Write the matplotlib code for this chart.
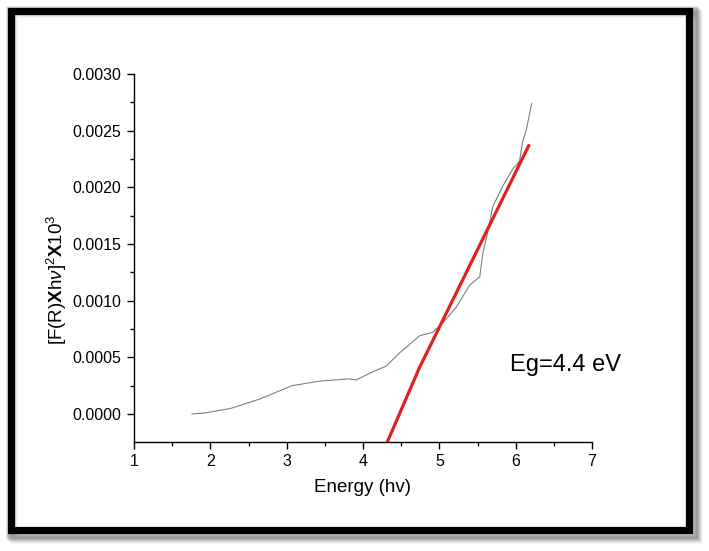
import matplotlib
matplotlib.use("Agg")
import matplotlib.pyplot as plt
from matplotlib.patches import Rectangle

plt.rcParams["font.family"] = ["Liberation Sans", "DejaVu Sans"]
plt.rcParams["mathtext.fontset"] = "custom"
plt.rcParams["mathtext.rm"] = "Liberation Sans"
plt.rcParams["mathtext.it"] = "Liberation Sans:italic"
plt.rcParams["mathtext.bf"] = "Liberation Sans:bold"

energy = [1.76, 1.94, 2.27, 2.64, 3.07, 3.43, 3.82, 3.91, 4.12, 4.26, 4.30,
          4.48, 4.57, 4.74, 4.91, 5.04, 5.22, 5.40, 5.53, 5.57, 5.62, 5.70,
          5.83, 5.96, 6.05, 6.09, 6.14, 6.21]
signal = [0.0000, 0.00001, 0.00005, 0.00013, 0.00025, 0.00029, 0.00031,
          0.00030, 0.00037, 0.00041, 0.00042, 0.00054, 0.00059, 0.00069,
          0.00072, 0.00080, 0.00094, 0.00114, 0.00121, 0.00142, 0.00156,
          0.00183, 0.00201, 0.00216, 0.00223, 0.00240, 0.00251, 0.00274]

# hand-drawn tangent (red)
fit_x = [4.31, 4.74, 6.18]
fit_y = [-0.00026, 0.00041, 0.00238]

x_ticks = [1, 2, 3, 4, 5, 6, 7]
y_ticks = [0.0, 0.0005, 0.0010, 0.0015, 0.0020, 0.0025, 0.0030]

W, H = 709, 551
fig = plt.figure(figsize=(W / 100, H / 100), dpi=100)


def fig_rect(x0, y0, x1, y1, **kw):
    # pixel coords (top-left origin) -> figure fraction
    return Rectangle((x0 / W, 1 - y1 / H), (x1 - x0) / W, (y1 - y0) / H,
                     transform=fig.transFigure, **kw)


# soft shadow to the right/bottom of the frame
for i, a in enumerate([0.10, 0.10, 0.09, 0.07, 0.05, 0.03]):
    off = 2 + i
    fig.patches.append(fig_rect(7 + off, 7 + off, 692 + off, 533 + off,
                                fill=False, edgecolor="black", alpha=a,
                                linewidth=5.0, zorder=0))
fig.patches.append(fig_rect(10.5, 10.5, 688.5, 530, fill=False,
                            edgecolor="black", linewidth=5.2, zorder=1))

ax = fig.add_axes([134 / W, 1 - 442 / H, (592 - 134) / W, (442 - 74) / H])

ax.plot(energy, signal, color="#7f7f7f", linewidth=0.8)
ax.plot(fit_x, fit_y, color="#dd2222", linewidth=2.3, solid_capstyle="butt")

ax.set_xlim(1, 7)
ax.set_ylim(-0.000247, 0.0030)
ax.set_xticks(x_ticks)
ax.set_xticks([1.5, 2.5, 3.5, 4.5, 5.5, 6.5], minor=True)
ax.set_yticks(y_ticks)
ax.set_yticks([0.00025, 0.00075, 0.00125, 0.00175, 0.00225, 0.00275], minor=True)
ax.set_yticklabels([f"{v:.4f}" for v in y_ticks])
ax.set_xticklabels([str(v) for v in x_ticks])

for s in ("top", "right"):
    ax.spines[s].set_visible(False)
for s in ("left", "bottom"):
    ax.spines[s].set_linewidth(1.0)
ax.tick_params(which="major", direction="out", length=5, width=1.0,
               labelsize=11.5, pad=4)
ax.tick_params(which="minor", direction="out", length=3, width=1.0)

ax.set_xlabel("Energy (hv)", fontsize=13.5, labelpad=7)
ax.set_ylabel(r"[F(R)$\mathbf{X}$h$\nu$]$^2$$\mathbf{X}$10$^3$", fontsize=13.5)
ax.yaxis.set_label_coords(-0.142, 0.44)

ax.text(5.93, 0.00043, "Eg=4.4 eV", fontsize=17, ha="left", va="center")

fig.savefig("out.png", dpi=100)
